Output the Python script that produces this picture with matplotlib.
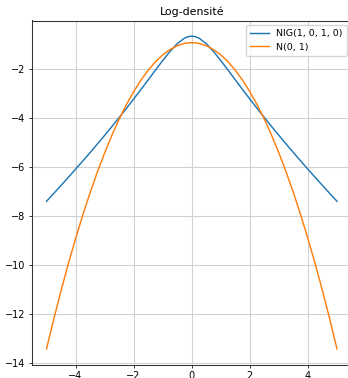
import matplotlib
matplotlib.use("Agg")
import matplotlib.pyplot as plt

x_vals = [-5, -4.75, -4.5, -4.25, -4, -3.75, -3.5, -3.25, -3, -2.75, -2.5, -2.25, -2,
          -1.75, -1.5, -1.25, -1, -0.75, -0.5, -0.25, -0.125, 0, 0.125, 0.25, 0.5, 0.75,
          1, 1.25, 1.5, 1.75, 2, 2.25, 2.5, 2.75, 3, 3.25, 3.5, 3.75, 4, 4.25, 4.5, 4.75, 5]

nig_half = [-0.6524, -0.6736, -0.7350, -0.9593, -1.2794, -1.6497, -2.0411, -2.4383, -2.8334,
            -3.2193, -3.6018, -3.9765, -4.3436, -4.7036, -5.0572, -5.4051, -5.7473,
            -6.0849, -6.4178, -6.7470, -7.0721, -7.3940]
norm_half = [-0.9189, -0.9267, -0.9502, -1.0439, -1.2002, -1.4189, -1.7002, -2.0439, -2.4502,
             -2.9189, -3.4502, -4.0439, -4.7002, -5.4189, -6.2002, -7.0439, -7.9502,
             -8.9189, -9.9502, -11.0439, -12.2002, -13.4189]

nig_vals = nig_half[:0:-1] + nig_half
norm_vals = norm_half[:0:-1] + norm_half

labels = ["NIG(1, 0, 1, 0)", "N(0, 1)"]
title = "Log-densité"

fig = plt.figure(figsize=(3.48, 3.78), dpi=100)
ax = fig.add_axes([32/348, (378-364.5)/378, (351.5-32)/348, (364.5-20.5)/378])
ax.plot(x_vals, nig_vals, color="#1f77b4", lw=1.05, label=labels[0])
ax.plot(x_vals, norm_vals, color="#ff7f0e", lw=1.05, label=labels[1])
ax.grid(True, color="#d0d0d0", lw=0.75)
ax.tick_params(labelsize=7.0, width=0.7, length=2.5, color="#333333", pad=2.5)
for s in ax.spines.values():
    s.set_linewidth(0.75)
    s.set_color("#333333")
ax.set_title(title, fontsize=7.9, pad=4)
ax.legend(fontsize=6.8, loc="upper right")
fig.savefig("out.png", dpi=100)
